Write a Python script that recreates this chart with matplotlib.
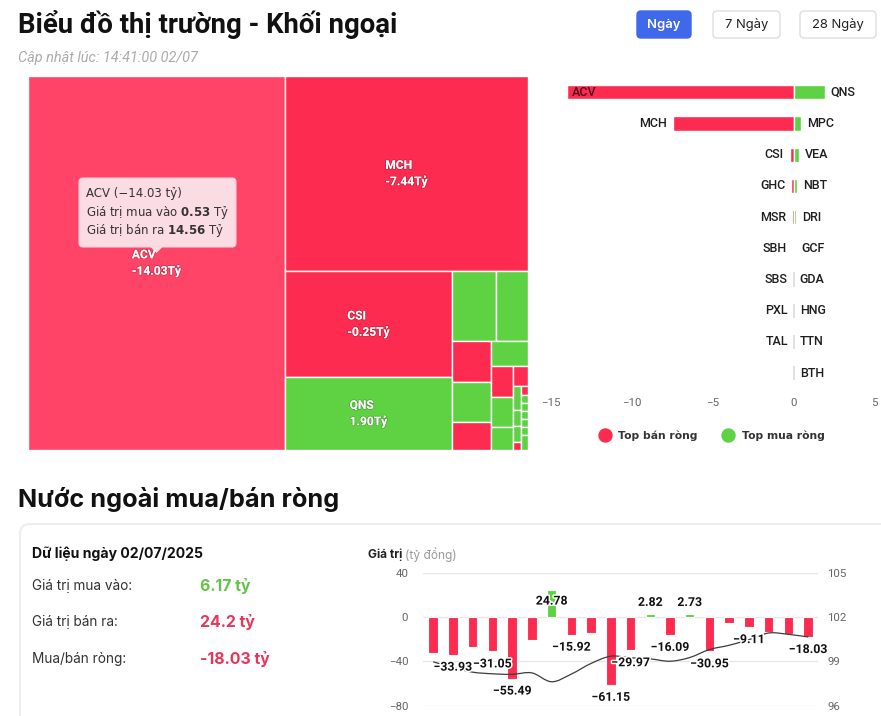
import math
import matplotlib
matplotlib.use('Agg')
import matplotlib.pyplot as plt
import matplotlib.patheffects as pe
from matplotlib.patches import Rectangle, FancyBboxPatch, Polygon, PathPatch
from matplotlib.path import Path
from matplotlib.lines import Line2D

plt.rcParams['font.family'] = ['Inter', 'DejaVu Sans']
plt.rcParams['axes.unicode_minus'] = True

FW, FH = 881, 716


def fs(px):
    # pixel size -> points at dpi 100
    return px * 0.72


RED = '#fe2b50'
RED_HOVER = '#ff4468'
GREEN = '#5fd244'

# ---------------- data ----------------
# treemap: size = tổng giá trị giao dịch (tỷ), colour / label = ròng (tỷ)
tm_names = ['ACV', 'MCH', 'CSI', 'QNS', 'MPC', 'VEA', 'GHC', 'NBT', 'MSR', 'DRI',
            'SBH', 'GCF', 'GDA', 'SBS', 'HNG', 'TTN', 'BTH', 'PXL', 'TAL',
            'VTP', 'HVN', 'BSR', 'SIP', 'VGI', 'OIL']
tm_total = [15.09, 7.44, 2.78, 1.91, 0.484, 0.352, 0.251, 0.245, 0.171, 0.145,
            0.107, 0.104, 0.079, 0.047, 0.030, 0.020, 0.020, 0.010, 0.0099,
            0.0088, 0.0088, 0.0088, 0.0088, 0.0088, 0.0165]
tm_net = [-14.03, -7.44, -0.25, 1.90, 0.45, 0.31, -0.16, 0.20, -0.12, 0.14,
          -0.06, 0.08, 0.03, -0.02, 0.02, 0.01, 0.01, -0.01, -0.01,
          0.01, 0.01, 0.01, 0.01, 0.01, 0.01]
hover_name = 'ACV'
hover_buy, hover_sell = 0.53, 14.56

# top net sell / buy
sell_names = ['ACV', 'MCH', 'CSI', 'GHC', 'MSR', 'SBH', 'SBS', 'PXL', 'TAL']
sell_values = [-14.03, -7.44, -0.25, -0.16, -0.12, -0.06, 0.0, 0.0, 0.0]
buy_names = ['QNS', 'MPC', 'VEA', 'NBT', 'DRI', 'GCF', 'GDA', 'HNG', 'TTN', 'BTH']
buy_values = [1.90, 0.45, 0.31, 0.20, 0.15, 0.08, 0.0, 0.0, 0.0, 0.0]

# daily foreign net value (tỷ đồng) + index line (right axis)
day_net = [-32.5, -33.93, -27.0, -31.05, -55.49, -21.0, 24.78, -15.92, -14.4, -61.15,
           -29.97, 2.82, -16.09, 2.73, -30.95, -5.4, -9.11, -13.5, -15.6, -18.03]
label_shown = [0, 1, 0, 1, 1, 0, 1, 1, 0, 1, 1, 1, 1, 1, 1, 0, 1, 0, 0, 1]
index_line = [98.97, 98.59, 98.27, 98.16, 98.12, 98.22, 97.62, 98.14, 98.86, 99.35,
              99.24, 99.17, 99.01, 99.26, 99.80, 100.09, 100.47, 100.92, 100.83, 100.65]

summary_date = '02/07/2025'
total_buy = 6.17
total_sell = 24.2
total_net = round(total_buy - total_sell, 2)


# ---------------- helpers ----------------
def px_axes(x, y, w, h):
    return fig.add_axes([x / FW, 1 - (y + h) / FH, w / FW, h / FH])


def aspect(w, h):
    if math.isnan(w) or math.isnan(h) or w == 0 or h == 0:
        return math.nan
    return max(w / h, h / w)


def div(a, b):
    if b == 0 or math.isnan(a):
        return math.nan
    return a / b


class Group:
    def __init__(self, h, w):
        self.height, self.width = h, w
        self.direction = 0
        self.total = 0.0
        self.nW = self.lW = self.nH = self.lH = 0.0
        self.el = []
        self.lR = self.nR = math.nan
        self.px = self.py = 0.0

    def add(self, a):
        prev = self.el[-1] if self.el else math.nan
        self.total += a
        if self.direction == 0:
            self.lW = self.nW
            self.lR = aspect(self.lW, div(prev, self.lW))
            self.nW = self.total / self.height
            self.nR = aspect(self.nW, div(prev, self.nW))
        else:
            self.lH = self.nH
            self.lR = aspect(div(prev, self.lH), self.lH)
            self.nH = self.total / self.width
            self.nR = aspect(div(prev, self.nH), self.nH)
        self.el.append(a)


def calc_points(g, last, out, W, H):
    gW, gH = (g.nW, g.nH) if last else (g.lW, g.lH)
    keep = None if last else g.el[-1]
    end = len(g.el) - 1
    for i, p in enumerate(g.el):
        if last or i < end:
            if g.direction == 0:
                pw, ph = gW, p / gW
                out.append((g.px, g.py, pw, ph))
                g.py += ph
            else:
                ph, pw = gH, p / gH
                out.append((g.px, g.py, pw, ph))
                g.px += pw
    g.nW = g.lW = 0.0
    g.el = []
    g.total = 0.0
    if g.direction == 0:
        g.width -= gW
    else:
        g.height -= gH
    g.py = H - g.height
    g.px = W - g.width
    g.direction = 1 - g.direction
    if keep is not None:
        g.add(keep)


def squarified(values, W, H):
    s = sum(values)
    areas = [W * H * v / s for v in values]
    g = Group(H, W)
    out = []
    for i, a in enumerate(areas):
        g.add(a)
        if g.nR > g.lR:
            calc_points(g, False, out, W, H)
        if i == len(areas) - 1:
            calc_points(g, True, out, W, H)
    return out


def spline_path(xs, ys):
    pts = list(zip(xs, ys))
    n = len(pts)
    verts, codes = [pts[0]], [Path.MOVETO]
    for i in range(n - 1):
        p0 = pts[i - 1] if i > 0 else pts[i]
        p1, p2 = pts[i], pts[i + 1]
        p3 = pts[i + 2] if i + 2 < n else p2
        c1 = (p1[0] + (p2[0] - p0[0]) / 6, p1[1] + (p2[1] - p0[1]) / 6)
        c2 = (p2[0] - (p3[0] - p1[0]) / 6, p2[1] - (p3[1] - p1[1]) / 6)
        verts += [c1, c2, p2]
        codes += [Path.CURVE4] * 3
    return Path(verts, codes)


def fmt_minus(v):
    return f'{v:.2f}'.replace('-', '\u2212')


# ---------------- figure ----------------
fig = plt.figure(figsize=(FW / 100, FH / 100), dpi=100)
fig.patch.set_facecolor('white')

bg = fig.add_axes([0, 0, 1, 1])
bg.set_xlim(0, FW)
bg.set_ylim(FH, 0)
bg.axis('off')

# header
bg.text(18, 33, 'Biểu đồ thị trường - Khối ngoại', fontsize=fs(27.5), fontweight='bold',
        family=['Roboto'], color='#111111', va='baseline')
bg.text(18, 58, 'Cập nhật lúc: 14:41:00 02/07', fontsize=fs(14.5), style='italic',
        family=['Roboto'], color='#ababab', va='center')

buttons = [('Ngày', 637, 54, True), ('7 Ngày', 713, 67, False), ('28 Ngày', 800, 76, False)]
for label, bx, bw, active in buttons:
    bg.add_patch(FancyBboxPatch((bx, 11), bw, 27, boxstyle='round,pad=0,rounding_size=4',
                                facecolor='#3f68ea' if active else 'white',
                                edgecolor='#3f68ea' if active else '#dedede', lw=1))
    bg.text(bx + bw / 2, 25, label, ha='center', va='center', fontsize=fs(13),
            color='white' if active else '#222222', fontweight='semibold' if active else 'normal')

# ---- treemap ----
TX, TY, TW, TH = 28, 76, 500, 374
ax_tm = px_axes(TX, TY, TW, TH)
ax_tm.set_xlim(0, TW)
ax_tm.set_ylim(TH, 0)
ax_tm.axis('off')
rects = squarified(tm_total, TW, TH)
for (x, y, w, h), name, net in zip(rects, tm_names, tm_net):
    if net < 0:
        col = RED_HOVER if name == hover_name else RED
    else:
        col = GREEN
    ax_tm.add_patch(Rectangle((x, y), w, h, facecolor=col, edgecolor='white', lw=1))
    if w > 50 and h > 30:
        ax_tm.text(x + w / 2, y + h / 2, f'{name}\n{net:.2f}Tỷ', ha='center', va='center',
                   multialignment='left', color='white', fontsize=fs(12), fontweight='bold',
                   family=['Roboto'], linespacing=1.2,
                   path_effects=[pe.withStroke(linewidth=1.2, foreground=(0, 0, 0, 0.2))])

# ---- top sell / buy bars ----
BX0, BX1 = 550.8, 874.8
ax_b = px_axes(BX0, 76.7, BX1 - BX0, 312)
ax_b.set_xlim(-15, 5)
ax_b.set_ylim(9.5, -0.5)
ax_b.patch.set_alpha(0)
for sp in ax_b.spines.values():
    sp.set_visible(False)
ppu = (BX1 - BX0) / 20.0
sell_rows = list(range(len(sell_values)))
buy_rows = list(range(len(buy_values)))
ax_b.barh(sell_rows, sell_values, height=0.46, color=RED, edgecolor='white', lw=1)
ax_b.barh(buy_rows, buy_values, height=0.46, color=GREEN, edgecolor='white', lw=1)
for r in buy_rows:
    s = sell_values[r] if r < len(sell_values) else 0.0
    if abs(s) < 0.005 and abs(buy_values[r]) < 0.005:
        ax_b.vlines(0, r - 0.23, r + 0.23, color='#dcdcdc', lw=1.2)
lab_kw = dict(fontsize=fs(12.5), family=['Roboto'], fontweight='medium', va='center')
for r, (name, v) in enumerate(zip(sell_names, sell_values)):
    if v - (6 + 26) / ppu < -15:
        ax_b.annotate(name, (v, r), xytext=(fs(5), 0), textcoords='offset points',
                      ha='left', color='#4a0c18', **lab_kw)
    else:
        ax_b.annotate(name, (v, r), xytext=(-fs(6), 0), textcoords='offset points',
                      ha='right', color='#1e1e1e', **lab_kw)
for r, (name, v) in enumerate(zip(buy_names, buy_values)):
    ax_b.annotate(name, (v, r), xytext=(fs(6), 0), textcoords='offset points',
                  ha='left', color='#1e1e1e', **lab_kw)
ax_b.set_yticks([])
ax_b.set_xticks([-15, -10, -5, 0, 5])
ax_b.tick_params(axis='x', length=0, pad=fs(9), labelsize=fs(11.5), labelcolor='#666666')
for t in ax_b.get_xticklabels():
    t.set_family(['Roboto'])

handles = [Line2D([], [], ls='none', marker='o', markersize=fs(13), markerfacecolor=RED,
                  markeredgecolor=RED),
           Line2D([], [], ls='none', marker='o', markersize=fs(13), markerfacecolor=GREEN,
                  markeredgecolor=GREEN)]
fig.legend(handles, ['Top bán ròng', 'Top mua ròng'], loc='center',
           bbox_to_anchor=(712 / FW, 1 - 436 / FH), ncol=2, frameon=False,
           handlelength=1.0, handletextpad=0.75, columnspacing=2.3,
           prop=dict(family='DejaVu Sans', weight='bold', size=fs(10.8)),
           labelcolor='#333333')

# ---- bottom section ----
bg.text(18, 507, 'Nước ngoài mua/bán ròng', fontsize=fs(25.3), fontweight='bold',
        color='#111111', va='baseline')
bg.add_patch(FancyBboxPatch((20, 524), 900, 240, boxstyle='round,pad=0,rounding_size=10',
                            facecolor='white', edgecolor='#eceef2', lw=1.5))
bg.text(32, 558, f'Dữ liệu ngày {summary_date}', fontsize=fs(14), fontweight='bold',
        color='#111111', va='baseline')
rows = [('Giá trị mua vào:', f'{total_buy:g} tỷ', '#62c446', 586),
        ('Giá trị bán ra:', f'{total_sell:g} tỷ', '#e8365a', 622),
        ('Mua/bán ròng:', f'{total_net:g} tỷ', '#e8365a', 659)]
for lab, val, col, yy in rows:
    bg.text(32, yy, lab, fontsize=fs(13.6), color='#333333', va='center')
    bg.text(200, yy, val, fontsize=fs(15.8), fontweight='bold', color=col, va='center')

PX0, PY0, PW, PH = 423.3, 572.7, 394.7, 133
ax_d = px_axes(PX0, PY0, PW, PH)
ax_d.patch.set_alpha(0)
ax_d.set_xlim(-0.5, len(day_net) - 0.5)
ax_d.set_ylim(-80, 40)
ax_d.set_yticks([-80, -40, 0, 40])
ax_d.set_xticks([])
for sp in ax_d.spines.values():
    sp.set_visible(False)
ax_d.grid(axis='y', color='#e6e6e6', lw=1)
ax_d.set_axisbelow(True)
ax_d.tick_params(axis='y', length=0, pad=fs(15), labelsize=fs(11.5), labelcolor='#666666')
for t in ax_d.get_yticklabels():
    t.set_family(['Roboto'])
idx = list(range(len(day_net)))
ax_d.bar(idx, day_net, width=0.48, color=[GREEN if v > 0 else RED for v in day_net],
         edgecolor='white', lw=0.8, zorder=2)

ax_r = ax_d.twinx()
ax_r.set_ylim(96, 105)
ax_r.set_yticks([96, 99, 102, 105])
for sp in ax_r.spines.values():
    sp.set_visible(False)
ax_r.tick_params(axis='y', length=0, pad=fs(9.5), labelsize=fs(11.5), labelcolor='#666666')
for t in ax_r.get_yticklabels():
    t.set_family(['Roboto'])
ax_r.add_patch(PathPatch(spline_path(idx, index_line), facecolor='none',
                         edgecolor='#3c3c3c', lw=0.9, zorder=3))

upu = PH / 120.0  # px per unit on left axis
for i, v in enumerate(day_net):
    if not label_shown[i]:
        continue
    if v < 0:
        ly = v - 12.5 / upu
    else:
        ly = v + 11.5 / upu
        if ly + 7 / upu > 40:
            ly = v - 11.5 / upu
    ax_r.text(i, 102 + ly * 3 / 40, fmt_minus(v), ha='center', va='center',
              fontsize=fs(12.3), fontweight='bold', family=['Roboto'], color='#111111',
              zorder=5, path_effects=[pe.withStroke(linewidth=2.2, foreground='white')])

t1 = bg.text(368, 555, 'Giá trị', fontsize=fs(12), fontweight='bold', color='#222222',
             va='center')
bg.annotate('(tỷ đồng)', xy=(1, 0.5), xycoords=t1, xytext=(fs(3), 0),
            textcoords='offset points', va='center', fontsize=fs(12), color='#9a9a9a')

# ---- tooltip over treemap ----
top = fig.add_axes([0, 0, 1, 1])
top.set_xlim(0, FW)
top.set_ylim(FH, 0)
top.axis('off')
top.patch.set_alpha(0)
tip_fc = '#fcdce3'
top.add_patch(FancyBboxPatch((79, 178), 157, 69, boxstyle='round,pad=0,rounding_size=4',
                             facecolor=tip_fc, edgecolor='#f7ccd5', lw=0.8))
top.add_patch(Polygon([(150, 246.5), (163, 246.5), (156.5, 253)], closed=True,
                      facecolor=tip_fc, edgecolor='none'))
tip_kw = dict(fontsize=fs(11.8), family='DejaVu Sans', color='#333333', va='center')
hover_net = tm_net[tm_names.index(hover_name)]
top.text(86.5, 194, f'{hover_name} ({fmt_minus(hover_net)} tỷ)', **tip_kw)
top.text(86.5, 212.3, r'Giá trị mua vào $\mathbf{' + f'{hover_buy:.2f}' + r'}$ Tỷ', **tip_kw)
top.text(86.5, 230.7, r'Giá trị bán ra $\mathbf{' + f'{hover_sell:.2f}' + r'}$ Tỷ', **tip_kw)

fig.savefig('out.png', dpi=100)
